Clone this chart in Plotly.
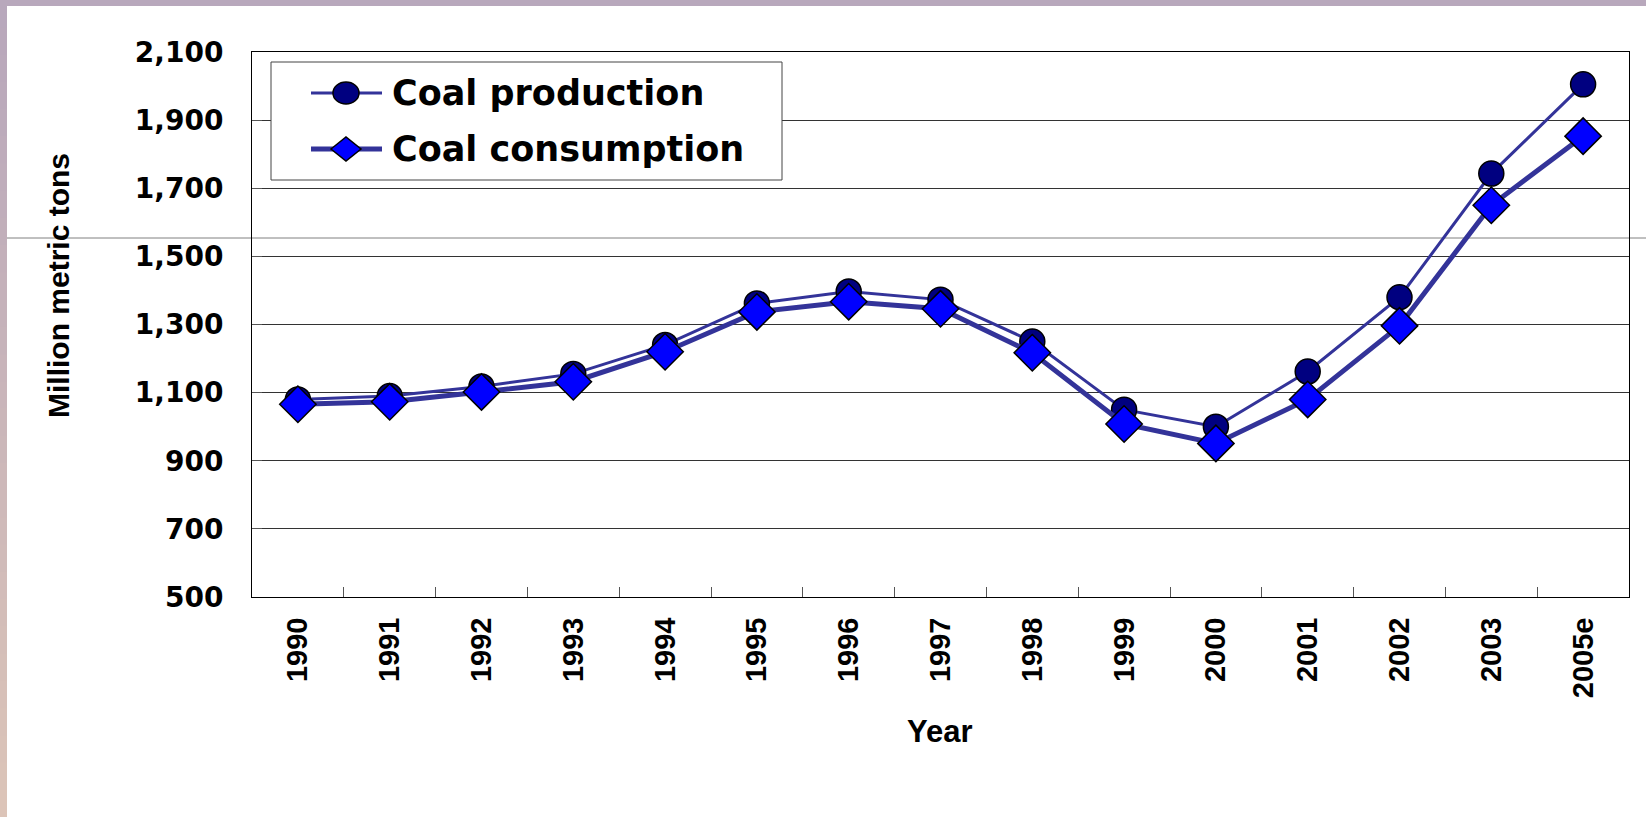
import plotly.graph_objects as go

# Dados
anos = ["1990", "1991", "1992", "1993", "1994", "1995", "1996", "1997",
        "1998", "1999", "2000", "2001", "2002", "2003", "2005e"]
producao = [1080, 1090, 1118, 1155, 1240, 1362, 1397, 1373,
            1250, 1050, 1000, 1162, 1380, 1743, 2005]
consumo = [1066, 1073, 1102, 1132, 1220, 1337, 1367, 1346,
           1217, 1008, 951, 1080, 1296, 1650, 1853]
ticks_y = [500, 700, 900, 1100, 1300, 1500, 1700, 1900, 2100]
series = ["Coal production", "Coal consumption"]

W, H = 1646, 817
L, R, T, B = 252, 17, 52, 220
PW, PH = W - L - R, H - T - B

FONTE = "DejaVu Sans"
ARIAL = "Liberation Sans, Arial"
LINHA = "#333399"


def px_x(p):
    return (p - L) / PW


def px_y(p):
    return (H - B - p) / PH


fig = go.Figure()

fig.add_trace(go.Scatter(
    x=anos, y=producao, name=series[0],
    mode="lines+markers",
    line=dict(color=LINHA, width=3),
    marker=dict(symbol="circle", size=25, color="#000080",
                line=dict(color="black", width=1.5)),
))
fig.add_trace(go.Scatter(
    x=anos, y=consumo, name=series[1],
    mode="lines+markers",
    line=dict(color=LINHA, width=5),
    marker=dict(symbol="diamond", size=28, color="#0000FF",
                line=dict(color="black", width=1.5)),
))

# Moldura decorativa (barra superior e lateral em degradê)
shapes = [dict(type="rect", xref="paper", yref="paper",
               x0=px_x(0), x1=px_x(W), y0=px_y(6), y1=px_y(0),
               fillcolor="#b8a8bc", line=dict(width=0), layer="above")]
n = 30
c0, c1 = (184, 168, 188), (220, 196, 184)
for i in range(n):
    f = i / (n - 1)
    cor = "rgb(%d,%d,%d)" % tuple(int(a + (b - a) * f) for a, b in zip(c0, c1))
    shapes.append(dict(type="rect", xref="paper", yref="paper",
                       x0=px_x(0), x1=px_x(7),
                       y0=px_y(H * (i + 1) / n + 1), y1=px_y(H * i / n),
                       fillcolor=cor, line=dict(width=0), layer="above"))
# linha horizontal cinza que atravessa a imagem
shapes.append(dict(type="line", xref="paper", yref="paper",
                   x0=px_x(7), x1=px_x(W), y0=px_y(238), y1=px_y(238),
                   line=dict(color="#808080", width=1), layer="below"))

# Legenda desenhada à mão (símbolos maiores e linhas longas como no original)
shapes.append(dict(type="rect", xref="paper", yref="paper",
                   x0=px_x(271), x1=px_x(782), y0=px_y(180), y1=px_y(62),
                   fillcolor="white", line=dict(color="#444", width=1),
                   layer="above"))
linhas_y = [93, 149]
larguras = [3, 5]
for yy, lw in zip(linhas_y, larguras):
    shapes.append(dict(type="line", xref="paper", yref="paper",
                       x0=px_x(311), x1=px_x(382), y0=px_y(yy), y1=px_y(yy),
                       line=dict(color=LINHA, width=lw), layer="above"))
cx = 346
shapes.append(dict(type="circle", xref="paper", yref="paper",
                   x0=px_x(cx - 13), x1=px_x(cx + 13),
                   y0=px_y(93 + 11), y1=px_y(93 - 11),
                   fillcolor="#000080", line=dict(color="black", width=1.5),
                   layer="above"))
dy = 149
caminho = "M %f,%f L %f,%f L %f,%f L %f,%f Z" % (
    px_x(cx - 15), px_y(dy), px_x(cx), px_y(dy - 12),
    px_x(cx + 15), px_y(dy), px_x(cx), px_y(dy + 12))
shapes.append(dict(type="path", xref="paper", yref="paper", path=caminho,
                   fillcolor="#0000FF", line=dict(color="black", width=1.5),
                   layer="above"))

anotacoes = [
    dict(text="<b>Million metric tons</b>", textangle=-90,
         xref="paper", yref="paper", x=px_x(58), y=px_y(286),
         xanchor="center", yanchor="middle", showarrow=False,
         font=dict(size=30, family=ARIAL)),
    dict(text="<b>Year</b>", xref="paper", yref="paper",
         x=px_x(940), y=px_y(731), xanchor="center", yanchor="middle",
         showarrow=False, font=dict(size=31, family=ARIAL)),
]
for nome, yy in zip(series, linhas_y):
    anotacoes.append(dict(text="<b>%s</b>" % nome, xref="paper", yref="paper",
                          x=px_x(390), y=px_y(yy), xanchor="left",
                          yanchor="middle", showarrow=False,
                          font=dict(size=35, family=FONTE)))

fig.update_layout(
    width=W, height=H,
    margin=dict(l=L, r=R, t=T, b=B),
    paper_bgcolor="white", plot_bgcolor="white",
    font=dict(family=FONTE, color="black"),
    shapes=shapes,
    annotations=anotacoes,
    showlegend=False,
)

fig.update_xaxes(
    type="category", range=[-0.5, len(anos) - 0.5],
    tickangle=-90, tickson="boundaries",
    ticks="inside", ticklen=10, tickcolor="#555",
    showline=True, linecolor="black", linewidth=1, mirror=True,
    showgrid=False, ticklabelstandoff=8,
    tickfont=dict(size=29, family=ARIAL, weight="bold"),
)
fig.update_yaxes(
    range=[500, 2100], tickvals=ticks_y, tickformat=",",
    ticks="inside", ticklen=10, tickcolor="#555",
    showline=True, linecolor="black", linewidth=1, mirror=True,
    showgrid=True, gridcolor="#333", gridwidth=1, zeroline=False,
    ticklabelstandoff=22,
    tickfont=dict(size=28, family=FONTE, weight="bold"),
)

fig.write_html("out.html", config={"displayModeBar": False},
               post_script="document.body.style.margin='0';")
